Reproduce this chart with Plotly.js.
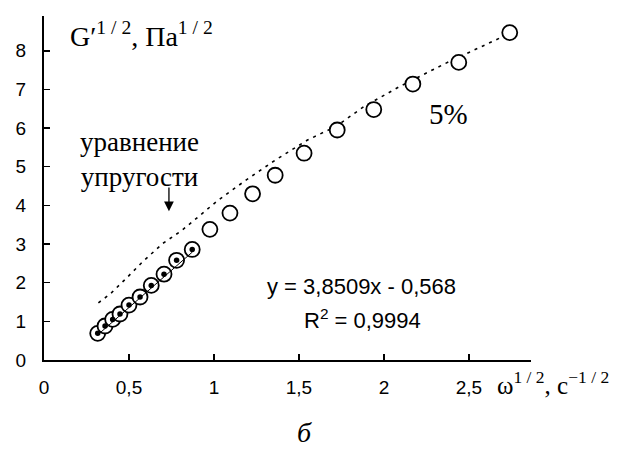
<!DOCTYPE html>
<html>
<head>
<meta charset="utf-8">
<script src="https://cdn.plot.ly/plotly-3.0.1.min.js"></script>
<style>
  html, body { margin: 0; padding: 0; background: #fff; }
  #chart { width: 617px; height: 457px; }
</style>
</head>
<body>
<div id="chart"></div>
<script>
// Square root of angular frequency, s^-1/2
const omegaRoot = [0.316, 0.359, 0.404, 0.447, 0.500, 0.565, 0.631, 0.706, 0.780, 0.872,
                   0.976, 1.094, 1.227, 1.360, 1.530, 1.725, 1.940, 2.170, 2.440, 2.740];
// Square root of storage modulus, Pa^1/2
const modulusRoot = [0.69, 0.88, 1.05, 1.19, 1.42, 1.63, 1.93, 2.22, 2.58, 2.86,
                     3.38, 3.80, 4.30, 4.78, 5.35, 5.95, 6.48, 7.14, 7.70, 8.47];
// Number of low-frequency points used for the linear fit
const fitCount = 10;
const fitSlope = 3.8509;
const fitIntercept = -0.568;
const fitR2 = 0.9994;

// Curve from the elasticity equation
const elasticX = [0.32, 0.39, 0.49, 0.58, 0.70, 0.81, 0.92, 1.02, 1.19, 1.36, 1.55, 1.72, 1.88, 2.09, 2.36, 2.65, 2.74];
const elasticY = [1.48, 1.71, 2.14, 2.54, 3.02, 3.35, 3.75, 4.12, 4.66, 5.17, 5.69, 6.05, 6.55, 7.07, 7.67, 8.28, 8.45];

const xTickVals = [0, 0.5, 1, 1.5, 2, 2.5];
const xTickText = ['0', '0,5', '1', '1,5', '2', '2,5'];
const yTickVals = [0, 1, 2, 3, 4, 5, 6, 7, 8];

const fmt = v => String(v).replace('.', ',');

const fitX = omegaRoot.slice(0, fitCount);
const fitY = modulusRoot.slice(0, fitCount);
const lineX = [fitX[0], fitX[fitX.length - 1]];
const lineY = lineX.map(x => fitSlope * x + fitIntercept);

const sans = 'Liberation Sans, Arial, sans-serif';
const serif = 'Liberation Serif, Times New Roman, serif';

const traces = [
  {
    x: elasticX, y: elasticY, type: 'scatter', mode: 'lines',
    line: { color: '#000', width: 1.6, dash: '3px,5px' },
    hoverinfo: 'skip'
  },
  {
    x: omegaRoot, y: modulusRoot, type: 'scatter', mode: 'markers',
    marker: { symbol: 'circle', size: 15, color: '#fff', line: { color: '#000', width: 1.8 } }
  },
  {
    x: lineX, y: lineY, type: 'scatter', mode: 'lines',
    line: { color: '#000', width: 1 }
  },
  {
    x: fitX, y: fitY, type: 'scatter', mode: 'markers',
    marker: { symbol: 'circle', size: 5.5, color: '#000' }
  }
];

const layout = {
  width: 617, height: 457,
  margin: { l: 44, r: 86, t: 16, b: 97 },
  paper_bgcolor: '#fff', plot_bgcolor: '#fff',
  showlegend: false,
  xaxis: {
    range: [0, 2.865], showgrid: false, zeroline: false,
    showline: true, linecolor: '#000', linewidth: 2,
    ticks: 'inside', ticklen: 6, tickwidth: 1.5, tickcolor: '#000',
    tickvals: xTickVals, ticktext: xTickText,
    tickfont: { family: sans, size: 19, color: '#000' },
    ticklabelstandoff: 9
  },
  yaxis: {
    range: [0, 8.9], showgrid: false, zeroline: false,
    showline: true, linecolor: '#000', linewidth: 2,
    ticks: 'inside', ticklen: 6, tickwidth: 1.5, tickcolor: '#000',
    tickvals: yTickVals,
    tickfont: { family: sans, size: 19, color: '#000' },
    ticklabelstandoff: 12
  },
  annotations: [
    { xref: 'paper', yref: 'paper', x: 0.049, y: 0.945, xanchor: 'left', yanchor: 'middle',
      text: 'G′<sup>1 / 2</sup>, Па<sup>1 / 2</sup>', showarrow: false,
      font: { family: serif, size: 28, color: '#000' } },
    { xref: 'x', yref: 'y', x: 0.562, y: 5.2, xanchor: 'center', yanchor: 'middle',
      text: 'уравнение<br>упругости', showarrow: false,
      font: { family: serif, size: 27, color: '#000' } },
    // pointer from the label down to the curve
    { xref: 'x', yref: 'y', x: 0.735, y: 3.85, ax: 0.735, ay: 4.5, axref: 'x', ayref: 'y',
      text: '', showarrow: true, arrowhead: 2, arrowsize: 1.5, arrowwidth: 1.3,
      arrowcolor: '#000', standoff: 0, startstandoff: 0 },
    { xref: 'x', yref: 'y', x: 2.382, y: 6.36, xanchor: 'center', yanchor: 'middle',
      text: '5%', showarrow: false,
      font: { family: serif, size: 29, color: '#000' } },
    { xref: 'x', yref: 'y', x: 1.868, y: 1.9, xanchor: 'center', yanchor: 'middle',
      text: 'y = ' + fmt(fitSlope) + 'x - ' + fmt(-fitIntercept), showarrow: false,
      font: { family: sans, size: 22, color: '#000' } },
    { xref: 'x', yref: 'y', x: 1.874, y: 1.06, xanchor: 'center', yanchor: 'middle',
      text: 'R<sup>2</sup> = ' + fmt(fitR2), showarrow: false,
      font: { family: sans, size: 22, color: '#000' } },
    { xref: 'paper', yref: 'paper', x: 0.926, y: -0.068, xanchor: 'left', yanchor: 'middle',
      text: 'ω<sup>1 / 2</sup>, с<sup>−1 / 2</sup>', showarrow: false,
      font: { family: serif, size: 25, color: '#000' } },
    { xref: 'paper', yref: 'paper', x: 0.535, y: -0.21, xanchor: 'center', yanchor: 'middle',
      text: '<i>б</i>', showarrow: false,
      font: { family: serif, size: 28, color: '#000' } }
  ]
};

Plotly.newPlot('chart', traces, layout, { displayModeBar: false, staticPlot: true });
</script>
</body>
</html>
